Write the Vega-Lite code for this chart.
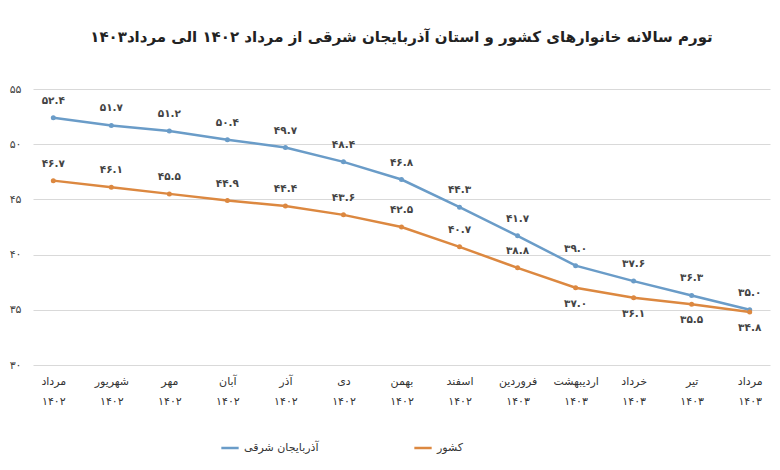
{
  "$schema": "https://vega.github.io/schema/vega-lite/v6.json",
  "width": 737,
  "height": 276,
  "autosize": {"type": "none"},
  "padding": {"left": 33, "top": 89, "right": 10, "bottom": 105},
  "background": "white",
  "config": {
    "view": {"stroke": null},
    "font": "DejaVu Sans"
  },
  "title": {
    "text": "تورم سالانه خانوارهای کشور و استان آذربایجان شرقی از مرداد ۱۴۰۲ الی مرداد۱۴۰۳",
    "fontSize": 15,
    "fontWeight": "bold",
    "color": "#222222",
    "anchor": "middle",
    "offset": 38
  },
  "data": {
    "values": [
      {"period": "مرداد|۱۴۰۲", "series": "آذربایجان شرقی", "value": 52.4},
      {"period": "شهریور|۱۴۰۲", "series": "آذربایجان شرقی", "value": 51.7},
      {"period": "مهر|۱۴۰۲", "series": "آذربایجان شرقی", "value": 51.2},
      {"period": "آبان|۱۴۰۲", "series": "آذربایجان شرقی", "value": 50.4},
      {"period": "آذر|۱۴۰۲", "series": "آذربایجان شرقی", "value": 49.7},
      {"period": "دی|۱۴۰۲", "series": "آذربایجان شرقی", "value": 48.4},
      {"period": "بهمن|۱۴۰۲", "series": "آذربایجان شرقی", "value": 46.8},
      {"period": "اسفند|۱۴۰۲", "series": "آذربایجان شرقی", "value": 44.3},
      {"period": "فروردین|۱۴۰۳", "series": "آذربایجان شرقی", "value": 41.7},
      {"period": "اردیبهشت|۱۴۰۳", "series": "آذربایجان شرقی", "value": 39.0},
      {"period": "خرداد|۱۴۰۳", "series": "آذربایجان شرقی", "value": 37.6},
      {"period": "تیر|۱۴۰۳", "series": "آذربایجان شرقی", "value": 36.3},
      {"period": "مرداد|۱۴۰۳", "series": "آذربایجان شرقی", "value": 35.0},
      {"period": "مرداد|۱۴۰۲", "series": "کشور", "value": 46.7},
      {"period": "شهریور|۱۴۰۲", "series": "کشور", "value": 46.1},
      {"period": "مهر|۱۴۰۲", "series": "کشور", "value": 45.5},
      {"period": "آبان|۱۴۰۲", "series": "کشور", "value": 44.9},
      {"period": "آذر|۱۴۰۲", "series": "کشور", "value": 44.4},
      {"period": "دی|۱۴۰۲", "series": "کشور", "value": 43.6},
      {"period": "بهمن|۱۴۰۲", "series": "کشور", "value": 42.5},
      {"period": "اسفند|۱۴۰۲", "series": "کشور", "value": 40.7},
      {"period": "فروردین|۱۴۰۳", "series": "کشور", "value": 38.8},
      {"period": "اردیبهشت|۱۴۰۳", "series": "کشور", "value": 37.0},
      {"period": "خرداد|۱۴۰۳", "series": "کشور", "value": 36.1},
      {"period": "تیر|۱۴۰۳", "series": "کشور", "value": 35.5},
      {"period": "مرداد|۱۴۰۳", "series": "کشور", "value": 34.8}
    ]
  },
  "transform": [
    {
      "calculate": "replace(replace(replace(replace(replace(replace(replace(replace(replace(replace(format(datum.value,'.1f'),regexp('0','g'),'۰'),regexp('1','g'),'۱'),regexp('2','g'),'۲'),regexp('3','g'),'۳'),regexp('4','g'),'۴'),regexp('5','g'),'۵'),regexp('6','g'),'۶'),regexp('7','g'),'۷'),regexp('8','g'),'۸'),regexp('9','g'),'۹')",
      "as": "label"
    }
  ],
  "encoding": {
    "x": {
      "field": "period",
      "type": "ordinal",
      "sort": null,
      "scale": {"type": "point", "padding": 0.35},
      "axis": {
        "title": null,
        "labelAngle": 0,
        "domain": false,
        "ticks": false,
        "grid": false,
        "labelPadding": 10,
        "labelFontSize": 11,
        "labelColor": "#333333",
        "labelLineHeight": 20,
        "labelExpr": "split(datum.label, '|')"
      }
    },
    "y": {
      "field": "value",
      "type": "quantitative",
      "scale": {"domain": [30, 55], "nice": false, "zero": false},
      "axis": {
        "title": null,
        "values": [30, 35, 40, 45, 50, 55],
        "domain": false,
        "ticks": false,
        "grid": true,
        "gridColor": "#d9d9d9",
        "gridWidth": 1,
        "labelPadding": 12,
        "labelFontSize": 11,
        "labelColor": "#444444",
        "labelExpr": "{'30':'۳۰','35':'۳۵','40':'۴۰','45':'۴۵','50':'۵۰','55':'۵۵'}[datum.label]"
      }
    },
    "color": {
      "field": "series",
      "type": "nominal",
      "scale": {"domain": ["آذربایجان شرقی", "کشور"], "range": ["#6A9CC8", "#DC8840"]},
      "legend": {
        "title": null,
        "orient": "none",
        "legendX": 187,
        "legendY": 349,
        "direction": "horizontal",
        "symbolType": "stroke",
        "symbolStrokeWidth": 2.5,
        "symbolSize": 300,
        "labelFontSize": 11,
        "labelColor": "#333333",
        "columnPadding": 90
      }
    }
  },
  "layer": [
    {
      "mark": {"type": "line", "strokeWidth": 2.5, "point": {"size": 25, "filled": true}}
    },
    {
      "transform": [{"filter": "datum.series == 'آذربایجان شرقی'"}],
      "mark": {"type": "text", "dy": -17, "fontSize": 10.5, "fontWeight": "bold"},
      "encoding": {"text": {"field": "label"}, "color": {"value": "#444444"}}
    },
    {
      "transform": [{"filter": "datum.series == 'کشور' && indexof(['اردیبهشت|۱۴۰۳','خرداد|۱۴۰۳','تیر|۱۴۰۳','مرداد|۱۴۰۳'], datum.period) < 0"}],
      "mark": {"type": "text", "dy": -17, "fontSize": 10.5, "fontWeight": "bold"},
      "encoding": {"text": {"field": "label"}, "color": {"value": "#444444"}}
    },
    {
      "transform": [{"filter": "datum.series == 'کشور' && indexof(['اردیبهشت|۱۴۰۳','خرداد|۱۴۰۳','تیر|۱۴۰۳','مرداد|۱۴۰۳'], datum.period) >= 0"}],
      "mark": {"type": "text", "dy": 16, "fontSize": 10.5, "fontWeight": "bold"},
      "encoding": {"text": {"field": "label"}, "color": {"value": "#444444"}}
    }
  ]
}
